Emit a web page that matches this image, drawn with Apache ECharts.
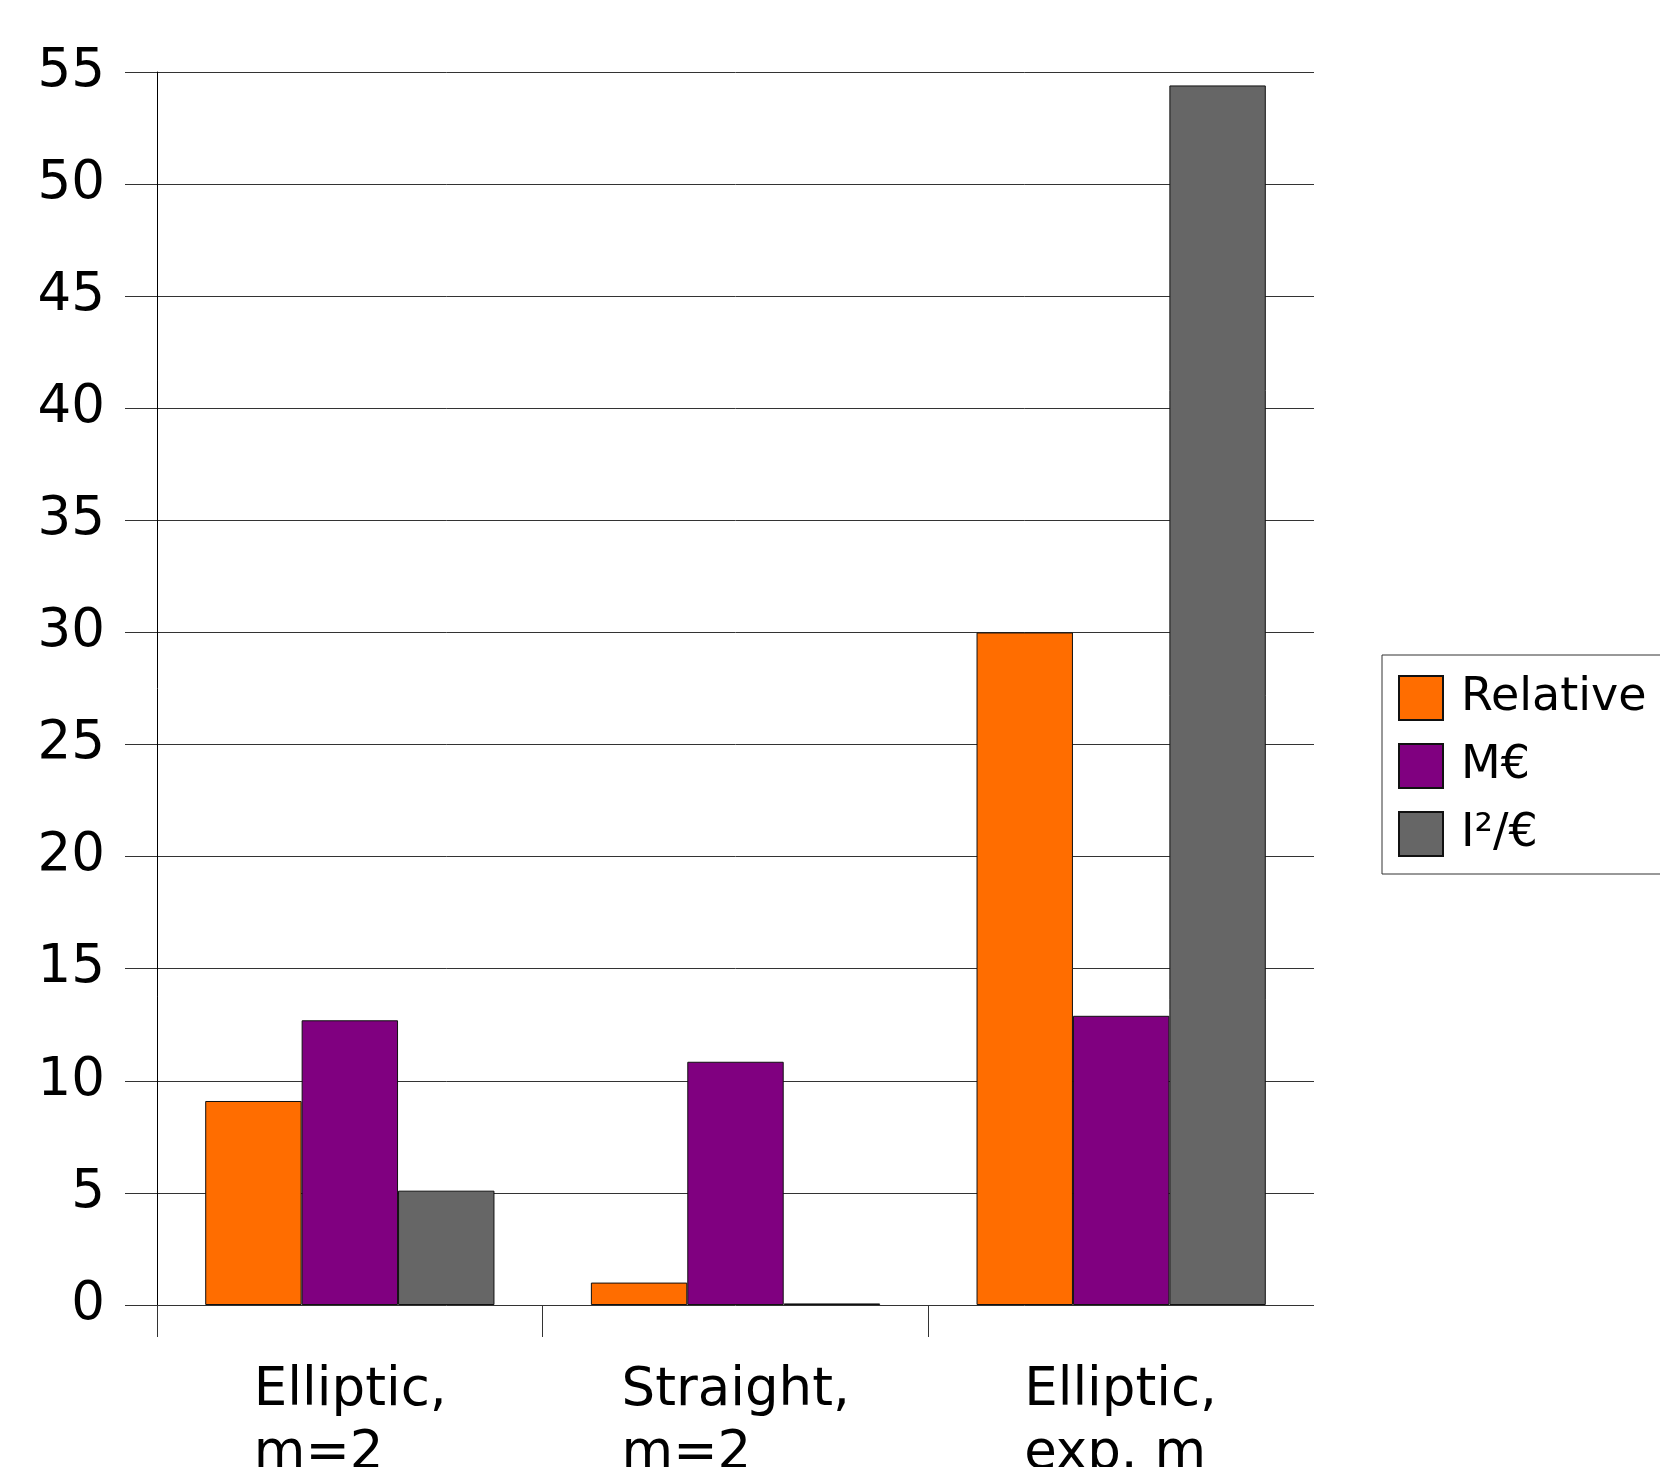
<!DOCTYPE html>
<html>
<head>
<meta charset="utf-8">
<script src="https://cdn.jsdelivr.net/npm/echarts@6/dist/echarts.min.js"></script>
<style>
html,body{margin:0;padding:0;background:#fff;}
#chart{width:1660px;height:1467px;}
</style>
</head>
<body>
<div id="chart"></div>
<script>
const categories = ['Elliptic,\nm=2', 'Straight,\nm=2', 'Elliptic,\nexp. m'];
const seriesNames = ['Relative', 'M€', 'I²/€'];
const relative = [9.1, 1.0, 30.0];
const meuro = [12.7, 10.85, 12.9];
const i2euro = [5.1, 0.07, 54.4];
const yTicks = [0, 5, 10, 15, 20, 25, 30, 35, 40, 45, 50, 55];

const colors = ['#ff6d00', '#800080', '#666666'];
const FONT = 'DejaVu Sans';

const chart = echarts.init(document.getElementById('chart'), null, {renderer: 'canvas'});
const barStyle = (c) => ({color: c, borderColor: '#111', borderWidth: 1});
const richKeys = ['a', 'b', 'c'];

chart.setOption({
  animation: false,
  backgroundColor: '#fff',
  textStyle: {fontFamily: FONT},
  grid: {left: 157, top: 72, width: 1157, height: 1233, containLabel: false, outerBoundsMode: 'none'},
  legend: {
    orient: 'vertical',
    left: 1382, top: 655,
    padding: [20, 40, 17, 16],
    itemWidth: 44, itemHeight: 44, itemGap: 22,
    borderColor: '#333', borderWidth: 1,
    icon: 'rect',
    textStyle: {fontFamily: FONT, fontSize: 46, lineHeight: 44, color: '#000', padding: [0, 0, 0, 13]},
    data: seriesNames
  },
  xAxis: [{
    type: 'category',
    data: categories,
    boundaryGap: true,
    axisLine: {show: false},
    axisTick: {show: false},
    axisLabel: {
      interval: 0,
      hideOverlap: false,
      margin: 55,
      color: '#000',
      fontFamily: FONT,
      fontSize: 53,
      lineHeight: 63,
      formatter: function (v, i) {
        const k = richKeys[i];
        return v.split('\n').map(s => '{' + k + '|' + s + '}').join('\n');
      },
      rich: {
        a: {width: 192, align: 'left', fontSize: 53, lineHeight: 63, fontFamily: FONT, color: '#000'},
        b: {width: 228, align: 'left', fontSize: 53, lineHeight: 63, fontFamily: FONT, color: '#000'},
        c: {width: 194, align: 'left', fontSize: 53, lineHeight: 63, fontFamily: FONT, color: '#000'}
      }
    }
  }, {
    type: 'value',
    position: 'bottom',
    min: 0, max: 3, interval: 1,
    axisLine: {show: false},
    splitLine: {show: false},
    axisLabel: {show: false},
    axisTick: {show: true, length: 32, customValues: [0, 1, 2], lineStyle: {color: '#333', width: 1}}
  }],
  yAxis: {
    type: 'value',
    min: 0, max: 55, interval: 5,
    axisLine: {show: true, lineStyle: {color: '#000', width: 1}},
    axisTick: {show: true, length: 32, lineStyle: {color: '#333', width: 1}},
    splitLine: {show: true, lineStyle: {color: '#333', width: 1}},
    axisLabel: {
      margin: 52,
      color: '#000',
      fontFamily: FONT,
      fontSize: 53,
      formatter: function (v) { return yTicks.indexOf(v) >= 0 ? String(v) : ''; }
    }
  },
  series: [
    {name: seriesNames[0], type: 'bar', data: relative, barGap: '0%', barCategoryGap: '25%', itemStyle: barStyle(colors[0])},
    {name: seriesNames[1], type: 'bar', data: meuro, barGap: '0%', barCategoryGap: '25%', itemStyle: barStyle(colors[1])},
    {name: seriesNames[2], type: 'bar', data: i2euro, barGap: '0%', barCategoryGap: '25%', itemStyle: barStyle(colors[2])}
  ]
});
</script>
</body>
</html>
